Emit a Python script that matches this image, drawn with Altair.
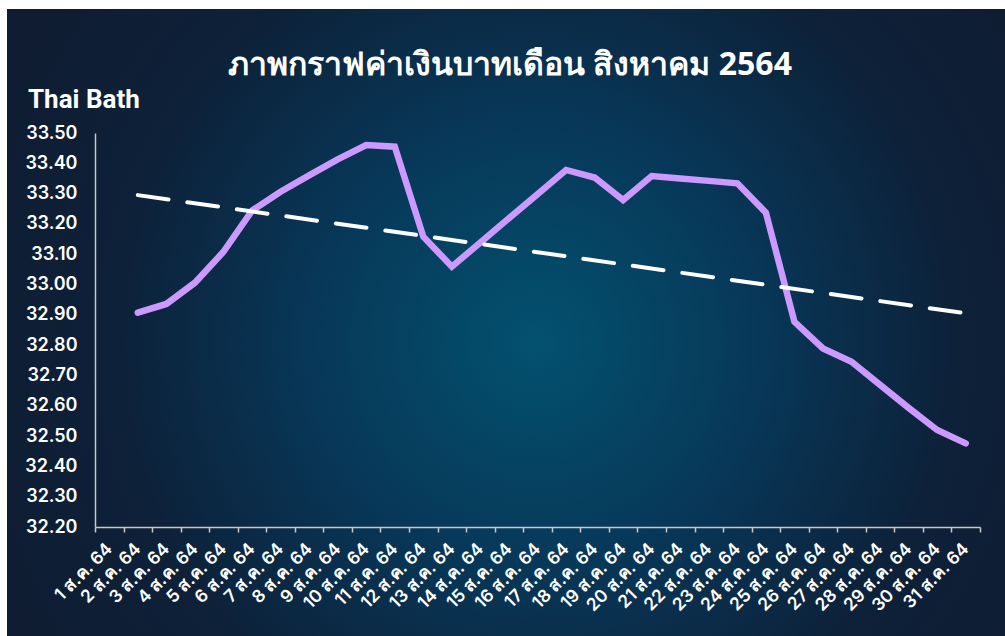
import altair as alt
import pandas as pd

# ---- data ----
days = list(range(1, 32))
labels = [f"{d} ส.ค. 64" for d in days]

rate_days = list(range(2, 32))
rates = [32.907, 32.936, 33.006, 33.108, 33.244, 33.306, 33.360, 33.413, 33.460, 33.455,
         33.158, 33.059, 33.139, 33.219, 33.298, 33.378, 33.353, 33.279, 33.358, 33.350,
         33.342, 33.334, 33.237, 32.877, 32.789, 32.745, 32.669, 32.593, 32.520, 32.476]

trend_days = [2, 31]
trend_values = [33.295, 32.905]

y_ticks = [32.2, 32.3, 32.4, 32.5, 32.6, 32.7, 32.8, 32.9, 33.0, 33.1, 33.2, 33.3, 33.4, 33.5]

title_text = "ภาพกราฟค่าเงินบาทเดือน สิงหาคม 2564"
y_title = "Thai Bath"

line_df = pd.DataFrame({"label": [f"{d} ส.ค. 64" for d in rate_days], "value": rates})
trend_df = pd.DataFrame({"label": [f"{d} ส.ค. 64" for d in trend_days], "value": trend_values})

W, H = 885, 394
PAD = {"left": 95, "top": 133, "right": 25, "bottom": 109}

x_enc = alt.X(
    "label:O",
    sort=labels,
    scale=alt.Scale(domain=labels, paddingInner=0, paddingOuter=0),
    axis=alt.Axis(
        title=None,
        labelAngle=-45,
        labelAlign="right",
        labelBaseline="middle",
        labelPadding=14,
        labelFontSize=17.5,
        labelFont="Inter",
        labelFontWeight=600,
        labelColor="white",
        labelOverlap=False,
        labelBound=False,
        tickBand="extent",
        tickColor="#c8c8c8",
        tickSize=5,
        tickWidth=1.5,
        domainColor="#c8c8c8",
        domainWidth=1.5,
        grid=False,
        zindex=2,
    ),
)
y_enc = alt.Y(
    "value:Q",
    scale=alt.Scale(domain=[32.2, 33.5], nice=False, zero=False),
    axis=alt.Axis(
        title=None,
        values=y_ticks,
        format=".2f",
        labelFontSize=18,
        labelFont="Inter",
        labelFontWeight=600,
        labelColor="white",
        labelPadding=18,
        labelOverlap=False,
        labelBound=False,
        labelFlush=False,
        ticks=False,
        grid=False,
        domainColor="#c8c8c8",
        domainWidth=1.5,
        zindex=2,
    ),
)

bg_gradient = {
    "gradient": "radial",
    "x1": 0.53, "y1": 0.52, "r1": 0,
    "x2": 0.53, "y2": 0.52, "r2": 0.6,
    "stops": [
        {"offset": 0.0, "color": "#03516f"},
        {"offset": 0.35, "color": "#07395a"},
        {"offset": 0.7, "color": "#0d2139"},
        {"offset": 1.0, "color": "#0f1c31"},
    ],
}

bg = alt.Chart(alt.Data(values=[{"k": 1}])).mark_rect(fill=bg_gradient, stroke=None).encode(
    x=alt.value(-88), x2=alt.value(W + PAD["right"]),
    y=alt.value(-124), y2=alt.value(H + PAD["bottom"]),
)

title = alt.Chart(alt.Data(values=[{"k": 1}])).mark_text(
    font="Noto Sans", fontSize=32, fontWeight="bold", color="white",
    align="center", baseline="alphabetic",
).encode(x=alt.value(415), y=alt.value(-58), text=alt.value(title_text))

ytitle = alt.Chart(alt.Data(values=[{"k": 1}])).mark_text(
    font="Roboto", fontSize=26, fontWeight="bold", color="white",
    align="left", baseline="alphabetic",
).encode(x=alt.value(-67), y=alt.value(-25), text=alt.value(y_title))

line = alt.Chart(line_df).mark_line(
    color="#cc99ff", strokeWidth=6.5, strokeCap="round", strokeJoin="miter"
).encode(x=x_enc, y=y_enc)

trend = alt.Chart(trend_df).mark_line(
    color="white", strokeWidth=4, strokeDash=[31, 19], strokeCap="round"
).encode(x=x_enc, y=y_enc)

chart = alt.layer(bg, line, trend, title, ytitle).properties(
    width=W, height=H,
    padding=PAD,
    autosize=alt.AutoSizeParams(type="none"),
    background="white",
).configure_view(stroke=None).configure_axis(labelOverlap=False)

chart.save("out.html", embed_options={"renderer": "svg", "actions": False})
